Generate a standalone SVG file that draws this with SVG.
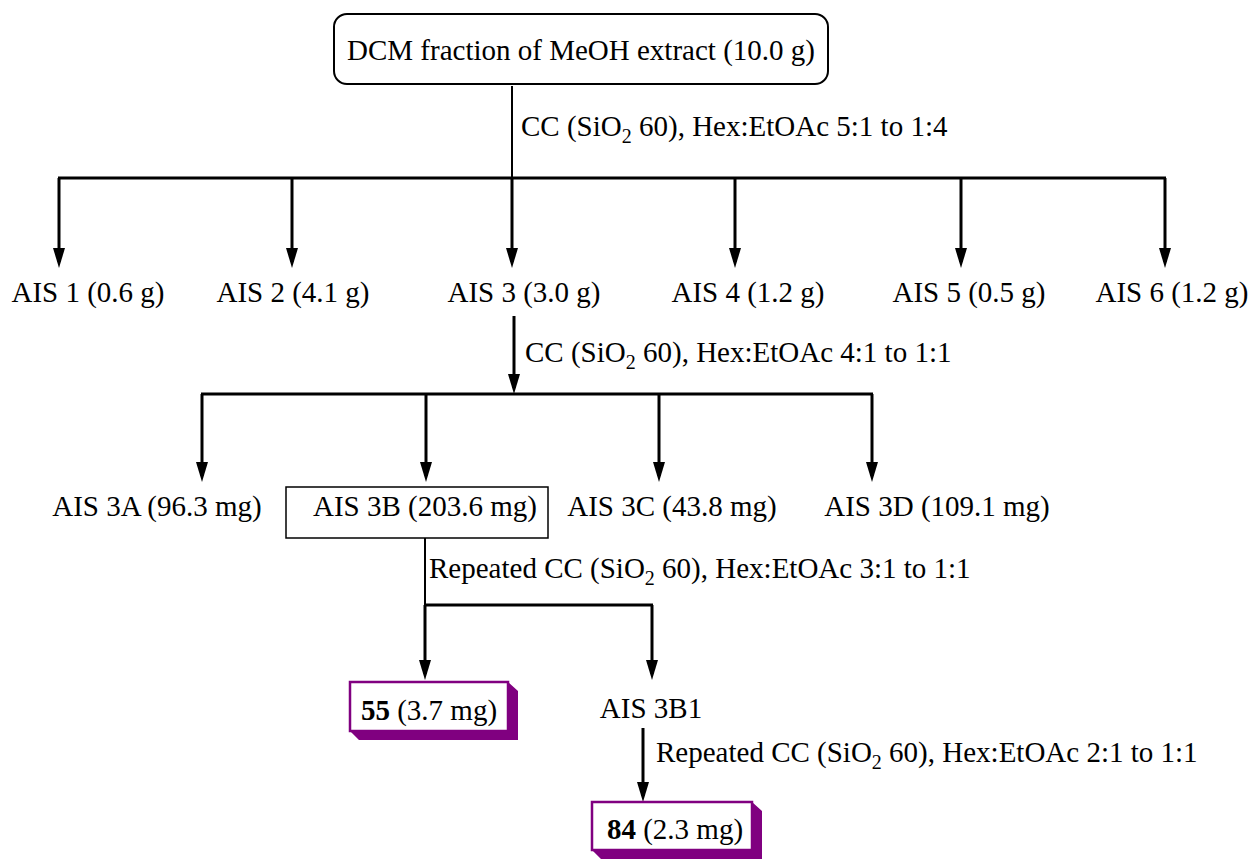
<svg xmlns="http://www.w3.org/2000/svg" width="1249" height="859" viewBox="0 0 1249 859">
<style>
text{font-family:"Liberation Serif","Times New Roman",serif;font-size:29px;fill:#000}
.c{text-anchor:middle}
.sub{font-size:20px}
.b{font-weight:bold}
.w{stroke:#000;stroke-width:3;fill:none}
.t{stroke:#000;stroke-width:2;fill:none}
.pf{fill:#fff;stroke:#800080;stroke-width:2.5}
.ps{fill:#800080;stroke:none}
</style>
<defs>
<marker id="ah" viewBox="0 0 20 12" refX="14" refY="6" markerWidth="20" markerHeight="12" markerUnits="userSpaceOnUse" orient="auto">
<path d="M0,0 L20,6 L0,12 z" fill="#000"/>
</marker>
</defs>
<g id="connectors">
<line class="t" x1="512" y1="86" x2="512" y2="178"/>
<line class="w" x1="58" y1="178" x2="1166" y2="178"/>
<line class="w" x1="59" y1="178" x2="59" y2="262" marker-end="url(#ah)"/>
<line class="w" x1="292" y1="178" x2="292" y2="262" marker-end="url(#ah)"/>
<line class="w" x1="512" y1="178" x2="512" y2="262" marker-end="url(#ah)"/>
<line class="w" x1="735" y1="178" x2="735" y2="262" marker-end="url(#ah)"/>
<line class="w" x1="961" y1="178" x2="961" y2="262" marker-end="url(#ah)"/>
<line class="w" x1="1165" y1="178" x2="1165" y2="262" marker-end="url(#ah)"/>
<line class="w" x1="514" y1="316" x2="514" y2="388" marker-end="url(#ah)"/>
<line class="w" x1="201" y1="394" x2="873" y2="394"/>
<line class="w" x1="202" y1="394" x2="202" y2="476" marker-end="url(#ah)"/>
<line class="w" x1="426" y1="394" x2="426" y2="476" marker-end="url(#ah)"/>
<line class="w" x1="659" y1="394" x2="659" y2="476" marker-end="url(#ah)"/>
<line class="w" x1="872" y1="394" x2="872" y2="476" marker-end="url(#ah)"/>
<line class="t" x1="425" y1="538" x2="425" y2="605"/>
<line class="w" x1="424" y1="605" x2="653" y2="605"/>
<line class="w" x1="425" y1="605" x2="425" y2="674" marker-end="url(#ah)"/>
<line class="w" x1="652" y1="605" x2="652" y2="674" marker-end="url(#ah)"/>
<line class="w" x1="643" y1="728" x2="643" y2="796" marker-end="url(#ah)"/>
<text x="521" y="136">CC (SiO<tspan class="sub" dy="7">2</tspan><tspan dy="-7"> 60), Hex:EtOAc 5:1 to 1:4</tspan></text>
<text x="525" y="362">CC (SiO<tspan class="sub" dy="7">2</tspan><tspan dy="-7"> 60), Hex:EtOAc 4:1 to 1:1</tspan></text>
<text x="429" y="578">Repeated CC (SiO<tspan class="sub" dy="7">2</tspan><tspan dy="-7"> 60), Hex:EtOAc 3:1 to 1:1</tspan></text>
<text x="656" y="762">Repeated CC (SiO<tspan class="sub" dy="7">2</tspan><tspan dy="-7"> 60), Hex:EtOAc 2:1 to 1:1</tspan></text>
</g>
<g id="dcm">
<rect x="334" y="14" width="494" height="70" rx="13" ry="13" fill="#fff" stroke="#000" stroke-width="2"/>
<text class="c" x="581" y="60">DCM fraction of MeOH extract (10.0 g)</text>
</g>
<g id="ais1"><text class="c" x="88" y="302">AIS 1 (0.6 g)</text></g>
<g id="ais2"><text class="c" x="293" y="302">AIS 2 (4.1 g)</text></g>
<g id="ais3"><text class="c" x="524" y="302">AIS 3 (3.0 g)</text></g>
<g id="ais4"><text class="c" x="748" y="302">AIS 4 (1.2 g)</text></g>
<g id="ais5"><text class="c" x="969" y="302">AIS 5 (0.5 g)</text></g>
<g id="ais6"><text class="c" x="1172" y="302">AIS 6 (1.2 g)</text></g>
<g id="ais3a"><text class="c" x="157" y="516">AIS 3A (96.3 mg)</text></g>
<g id="ais3b">
<rect x="286" y="487" width="262" height="51" fill="#fff" stroke="#000" stroke-width="1.5"/>
<text class="c" x="425" y="516">AIS 3B (203.6 mg)</text>
</g>
<g id="ais3c"><text class="c" x="672" y="516">AIS 3C (43.8 mg)</text></g>
<g id="ais3d"><text class="c" x="937" y="516">AIS 3D (109.1 mg)</text></g>
<g id="c55">
<polygon class="ps" points="508,682 518,691 518,740 359,740 350,731 508,731"/>
<rect class="pf" x="350" y="682" width="158" height="49"/>
<text class="c" x="429" y="720"><tspan class="b">55</tspan> (3.7 mg)</text>
</g>
<g id="ais3b1"><text class="c" x="651" y="718">AIS 3B1</text></g>
<g id="c84">
<polygon class="ps" points="752,802 762,811 762,859 601,859 592,850 752,850"/>
<rect class="pf" x="592" y="802" width="160" height="48"/>
<text class="c" x="675" y="839"><tspan class="b">84</tspan> (2.3 mg)</text>
</g>
</svg>
